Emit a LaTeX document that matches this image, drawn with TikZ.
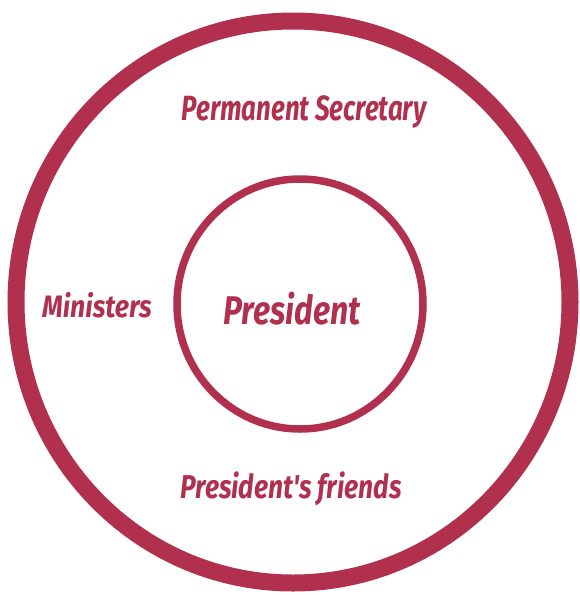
\documentclass[tikz,border=0pt]{standalone}
\usepackage{fontspec}
\usepackage{graphicx}
\setmainfont{Fira Sans}
\definecolor{ring}{HTML}{B0304E}
\newcommand{\hand}[2]{\scalebox{#1}[1]{#2}}
\begin{document}
\begin{tikzpicture}[x=1pt,y=-1pt,
  lbl/.style={text=ring,font=\fontsize{#1}{#1}\selectfont\bfseries\itshape,inner sep=0pt}]
\useasboundingbox (0,0) rectangle (580,595);
\draw[ring,line width=17pt] (293,302) ellipse [x radius=277, y radius=281];
\draw[ring,line width=7.5pt] (300,304) ellipse [x radius=123, y radius=125];
\node[lbl=35] (ps) at (304,112) {\hand{0.74}{Permanent Secretary}};
\node[lbl=31] (min) at (97,305) {\hand{0.86}{Ministers}};
\node[lbl=40] (pres) at (292,309) {\hand{0.8}{President}};
\node[lbl=33] (pf) at (291,489) {\hand{0.8}{President\textquotesingle s friends}};
\end{tikzpicture}
\end{document}
